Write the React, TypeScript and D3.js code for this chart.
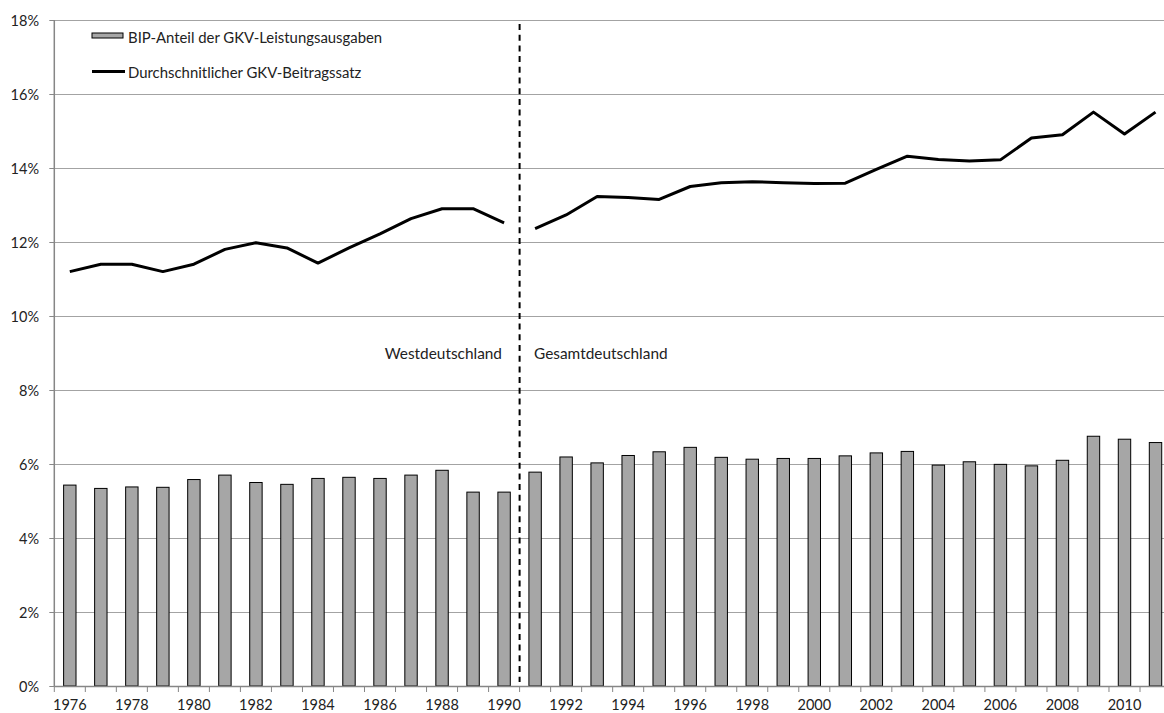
import React from "react";
import * as d3 from "d3";

const years: number[] = [
  1976, 1977, 1978, 1979, 1980, 1981, 1982, 1983, 1984, 1985, 1986, 1987,
  1988, 1989, 1990, 1991, 1992, 1993, 1994, 1995, 1996, 1997, 1998, 1999,
  2000, 2001, 2002, 2003, 2004, 2005, 2006, 2007, 2008, 2009, 2010, 2011,
];

const bipAnteil: number[] = [
  5.43, 5.34, 5.38, 5.37, 5.58, 5.7, 5.5, 5.45, 5.61, 5.64, 5.61, 5.7,
  5.83, 5.24, 5.24, 5.78, 6.19, 6.03, 6.23, 6.33, 6.45, 6.18, 6.13, 6.15,
  6.15, 6.22, 6.3, 6.34, 5.97, 6.06, 5.99, 5.95, 6.1, 6.75, 6.67, 6.58,
];

const westYears: number[] = [1976, 1977, 1978, 1979, 1980, 1981, 1982, 1983, 1984, 1985, 1986, 1987, 1988, 1989, 1990];
const westBeitrag: number[] = [11.2, 11.4, 11.4, 11.2, 11.4, 11.8, 11.98, 11.84, 11.43, 11.84, 12.22, 12.63, 12.9, 12.9, 12.52];

const gesamtYears: number[] = [
  1991, 1992, 1993, 1994, 1995, 1996, 1997, 1998, 1999, 2000, 2001, 2002,
  2003, 2004, 2005, 2006, 2007, 2008, 2009, 2010, 2011,
];
const gesamtBeitrag: number[] = [
  12.36, 12.73, 13.23, 13.2, 13.15, 13.5, 13.6, 13.63, 13.6, 13.58, 13.59, 13.96,
  14.32, 14.23, 14.19, 14.22, 14.81, 14.9, 15.51, 14.92, 15.51,
];

const yTicks: number[] = [0, 2, 4, 6, 8, 10, 12, 14, 16, 18];
const xLabelYears: number[] = years.filter((y) => (y - 1976) % 2 === 0);

const legendLabels: string[] = ["BIP-Anteil der GKV-Leistungsausgaben", "Durchschnitlicher GKV-Beitragssatz"];
const regionLabels: string[] = ["Westdeutschland", "Gesamtdeutschland"];

const W = 1164;
const H = 713;
const FONT = "Lato, 'Open Sans', sans-serif";

export default function App() {
  const left = 54.3;
  const step = 31.02;
  const right = left + years.length * step;
  const top = 20;
  const bottom = 686;

  const x = d3
    .scaleBand<number>()
    .domain(years)
    .range([left, right])
    .paddingInner(0.6)
    .paddingOuter(0.3);
  const st = x.step();
  const slotStart = (yr: number) => (x(yr) as number) - st * 0.3;
  const cx = (yr: number) => (x(yr) as number) + x.bandwidth() / 2;

  const y = d3.scaleLinear().domain([0, 18]).range([bottom, top]);

  const line = d3
    .line<[number, number]>()
    .x((d) => cx(d[0]))
    .y((d) => y(d[1]));

  const westPts: [number, number][] = westYears.map((yr, i) => [yr, westBeitrag[i]]);
  const gesPts: [number, number][] = gesamtYears.map((yr, i) => [yr, gesamtBeitrag[i]]);

  const tickBounds = d3.range(years.length + 1).map((i) => left + i * st);
  const splitX = slotStart(1991);

  return (
    <svg
      width={W}
      height={H}
      style={{ position: "absolute", left: 0, top: 0, background: "#fff" }}
      fontFamily={FONT}
    >
      <rect x={0} y={0} width={W} height={H} fill="#fff" />
      {yTicks
        .filter((t) => t > 0)
        .map((t) => (
          <line key={t} x1={left} x2={W} y1={Math.round(y(t)) + 0.5} y2={Math.round(y(t)) + 0.5} stroke="#a3a3a3" strokeWidth={1} />
        ))}
      {yTicks.map((t) => (
        <text key={t} x={39} y={y(t)} textAnchor="end" dominantBaseline="central" fontSize={14.5} fill="#222">
          {t}%
        </text>
      ))}
      {yTicks.map((t) => (
        <line key={"yt" + t} x1={left - 5} x2={left} y1={Math.round(y(t)) + 0.5} y2={Math.round(y(t)) + 0.5} stroke="#888" />
      ))}
      {years.map((yr, i) => (
        <rect
          key={yr}
          x={x(yr) as number}
          y={y(bipAnteil[i])}
          width={x.bandwidth()}
          height={bottom - y(bipAnteil[i])}
          fill="#a6a6a6"
          stroke="#000"
          strokeWidth={1}
        />
      ))}
      <line x1={left} x2={left} y1={top} y2={bottom} stroke="#868686" strokeWidth={1.5} />
      <line x1={left} x2={W} y1={bottom + 0.5} y2={bottom + 0.5} stroke="#868686" strokeWidth={1.5} />
      {tickBounds.map((tx, i) => (
        <line key={"xt" + i} x1={tx} x2={tx} y1={bottom} y2={bottom + 6} stroke="#868686" strokeWidth={1} />
      ))}
      {xLabelYears.map((yr) => (
        <text key={"xl" + yr} x={cx(yr)} y={704} textAnchor="middle" dominantBaseline="central" fontSize={14.5} fill="#222">
          {yr}
        </text>
      ))}
      <path d={line(westPts) || ""} fill="none" stroke="#000" strokeWidth={3} strokeLinejoin="round" />
      <path d={line(gesPts) || ""} fill="none" stroke="#000" strokeWidth={3} strokeLinejoin="round" />
      <line x1={splitX} x2={splitX} y1={24} y2={682} stroke="#000" strokeWidth={2} strokeDasharray="6 4.7" />
      <text x={502} y={353} textAnchor="end" dominantBaseline="central" fontSize={15.4} fill="#222">
        {regionLabels[0]}
      </text>
      <text x={534} y={353} textAnchor="start" dominantBaseline="central" fontSize={15.4} fill="#222">
        {regionLabels[1]}
      </text>
      <rect x={92} y={33} width={31} height={5} fill="#a6a6a6" stroke="#000" strokeWidth={1} />
      <text x={128} y={37} dominantBaseline="central" fontSize={14.9} fill="#222">
        {legendLabels[0]}
      </text>
      <line x1={92} x2={125} y1={71.5} y2={71.5} stroke="#000" strokeWidth={3} />
      <text x={128} y={71.5} dominantBaseline="central" fontSize={14.9} fill="#222">
        {legendLabels[1]}
      </text>
    </svg>
  );
}
